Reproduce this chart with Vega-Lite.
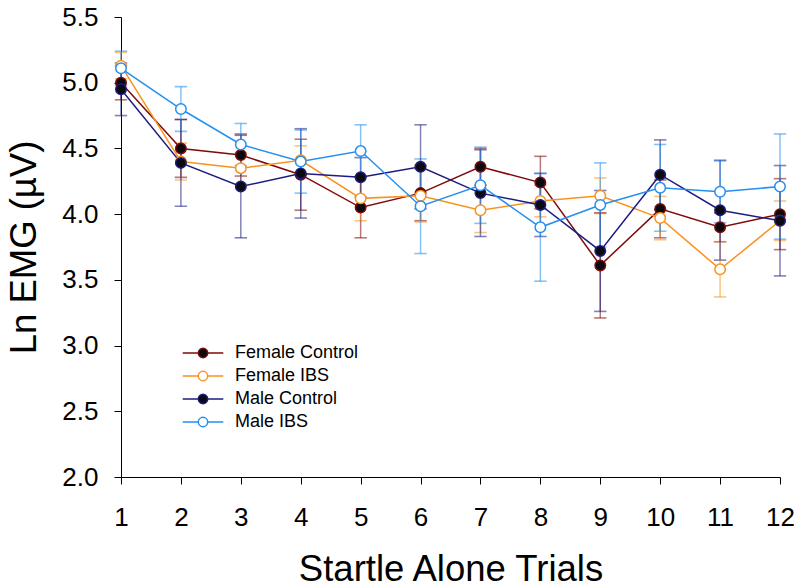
{
  "$schema": "https://vega.github.io/schema/vega-lite/v6.json",
  "width": 659,
  "height": 460,
  "autosize": {"type": "none"},
  "padding": {"left": 121, "top": 17, "right": 20, "bottom": 111},
  "background": "white",
  "config": {
    "view": {"stroke": null},
    "font": "Liberation Sans",
    "axis": {
      "domainColor": "#000000",
      "tickColor": "#000000",
      "labelColor": "#000000",
      "titleColor": "#000000",
      "labelFont": "Liberation Sans",
      "titleFont": "Liberation Sans",
      "titleFontWeight": "normal",
      "grid": false,
      "tickSize": 7,
      "labelFontSize": 26,
      "titleFontSize": 36.5
    }
  },
  "data": {
    "values": [
      {"trial": 1, "series": "Female Control", "mean": 5.00, "err": 0.13},
      {"trial": 2, "series": "Female Control", "mean": 4.50, "err": 0.22},
      {"trial": 3, "series": "Female Control", "mean": 4.45, "err": 0.16},
      {"trial": 4, "series": "Female Control", "mean": 4.30, "err": 0.27},
      {"trial": 5, "series": "Female Control", "mean": 4.05, "err": 0.23},
      {"trial": 6, "series": "Female Control", "mean": 4.16, "err": 0.21},
      {"trial": 7, "series": "Female Control", "mean": 4.36, "err": 0.14},
      {"trial": 8, "series": "Female Control", "mean": 4.24, "err": 0.20},
      {"trial": 9, "series": "Female Control", "mean": 3.61, "err": 0.40},
      {"trial": 10, "series": "Female Control", "mean": 4.04, "err": 0.22},
      {"trial": 11, "series": "Female Control", "mean": 3.90, "err": 0.11},
      {"trial": 12, "series": "Female Control", "mean": 4.00, "err": 0.27},
      {"trial": 1, "series": "Female IBS", "mean": 5.13, "err": 0.10},
      {"trial": 2, "series": "Female IBS", "mean": 4.40, "err": 0.14},
      {"trial": 3, "series": "Female IBS", "mean": 4.35, "err": 0.12},
      {"trial": 4, "series": "Female IBS", "mean": 4.41, "err": 0.11},
      {"trial": 5, "series": "Female IBS", "mean": 4.12, "err": 0.17},
      {"trial": 6, "series": "Female IBS", "mean": 4.14, "err": 0.20},
      {"trial": 7, "series": "Female IBS", "mean": 4.03, "err": 0.17},
      {"trial": 8, "series": "Female IBS", "mean": 4.10, "err": 0.12},
      {"trial": 9, "series": "Female IBS", "mean": 4.14, "err": 0.135},
      {"trial": 10, "series": "Female IBS", "mean": 3.97, "err": 0.165},
      {"trial": 11, "series": "Female IBS", "mean": 3.58, "err": 0.21},
      {"trial": 12, "series": "Female IBS", "mean": 3.95, "err": 0.15},
      {"trial": 1, "series": "Male Control", "mean": 4.95, "err": 0.20},
      {"trial": 2, "series": "Male Control", "mean": 4.39, "err": 0.33},
      {"trial": 3, "series": "Male Control", "mean": 4.21, "err": 0.39},
      {"trial": 4, "series": "Male Control", "mean": 4.31, "err": 0.34},
      {"trial": 5, "series": "Male Control", "mean": 4.28, "err": 0.15},
      {"trial": 6, "series": "Male Control", "mean": 4.36, "err": 0.32},
      {"trial": 7, "series": "Male Control", "mean": 4.16, "err": 0.33},
      {"trial": 8, "series": "Male Control", "mean": 4.07, "err": 0.24},
      {"trial": 9, "series": "Male Control", "mean": 3.72, "err": 0.46},
      {"trial": 10, "series": "Male Control", "mean": 4.30, "err": 0.265},
      {"trial": 11, "series": "Male Control", "mean": 4.03, "err": 0.38},
      {"trial": 12, "series": "Male Control", "mean": 3.95, "err": 0.42},
      {"trial": 1, "series": "Male IBS", "mean": 5.11, "err": 0.13},
      {"trial": 2, "series": "Male IBS", "mean": 4.80, "err": 0.17},
      {"trial": 3, "series": "Male IBS", "mean": 4.53, "err": 0.16},
      {"trial": 4, "series": "Male IBS", "mean": 4.40, "err": 0.24},
      {"trial": 5, "series": "Male IBS", "mean": 4.48, "err": 0.20},
      {"trial": 6, "series": "Male IBS", "mean": 4.06, "err": 0.36},
      {"trial": 7, "series": "Male IBS", "mean": 4.22, "err": 0.29},
      {"trial": 8, "series": "Male IBS", "mean": 3.90, "err": 0.41},
      {"trial": 9, "series": "Male IBS", "mean": 4.07, "err": 0.32},
      {"trial": 10, "series": "Male IBS", "mean": 4.20, "err": 0.33},
      {"trial": 11, "series": "Male IBS", "mean": 4.17, "err": 0.235},
      {"trial": 12, "series": "Male IBS", "mean": 4.21, "err": 0.40}
    ]
  },
  "encoding": {
    "x": {
      "field": "trial",
      "type": "quantitative",
      "scale": {"domain": [1, 12], "nice": false, "zero": false},
      "axis": {
        "title": "Startle Alone Trials",
        "values": [1, 2, 3, 4, 5, 6, 7, 8, 9, 10, 11, 12],
        "format": "d",
        "labelBaseline": "alphabetic",
        "labelPadding": 41,
        "titleBaseline": "alphabetic",
        "titleY": 103,
        "labelFlush": false
      }
    },
    "y": {
      "field": "mean",
      "type": "quantitative",
      "scale": {"domain": [2, 5.5], "nice": false, "zero": false},
      "axis": {
        "title": "Ln EMG (µV)",
        "values": [2, 2.5, 3, 3.5, 4, 4.5, 5, 5.5],
        "format": ".1f",
        "labelPadding": 16,
        "titleX": -86,
        "titleBaseline": "alphabetic",
        "labelFlush": false
      }
    },
    "color": {
      "field": "series",
      "type": "nominal",
      "scale": {
        "domain": ["Female Control", "Female IBS", "Male Control", "Male IBS"],
        "range": ["#7f0a0a", "#f7931e", "#1c1c82", "#2490f0"]
      },
      "legend": {
        "title": null,
        "orient": "none",
        "legendX": 73,
        "legendY": 327,
        "padding": 0,
        "rowPadding": 5,
        "labelOffset": 23,
        "labelFontSize": 18,
        "labelFont": "Liberation Sans",
        "labelColor": "#000000",
        "symbolSize": 100,
        "symbolStrokeWidth": 1.5,
        "symbolType": "M0.94,0 A0.94,0.94 0 1,1 -0.94,0 A0.94,0.94 0 1,1 0.94,0 Z M-4.06,0 L-0.94,0 M0.94,0 L4.06,0",
        "encode": {
          "symbols": {
            "update": {
              "fill": {"scale": "fill", "field": "value"},
              "strokeWidth": {"value": 1.5},
              "opacity": {"value": 1},
              "fillOpacity": {"value": 1},
              "strokeOpacity": {"value": 1}
            }
          }
        }
      }
    }
  },
  "layer": [
    {
      "mark": {
        "type": "errorbar",
        "size": 11,
        "rule": {"strokeWidth": 1.5, "opacity": 0.55},
        "ticks": {"filled": false, "thickness": 0.2, "strokeWidth": 1.4, "opacity": 0.55}
      },
      "encoding": {
        "yError": {"field": "err"}
      }
    },
    {
      "mark": {"type": "line", "strokeWidth": 1.5},
      "encoding": {
        "detail": {"field": "series"}
      }
    },
    {
      "mark": {"type": "point", "shape": "circle", "size": 110, "strokeWidth": 1.5, "opacity": 1},
      "encoding": {
        "fill": {
          "field": "series",
          "type": "nominal",
          "scale": {
            "domain": ["Female Control", "Female IBS", "Male Control", "Male IBS"],
            "range": ["#0a0a10", "#ffffff", "#0a0a10", "#ffffff"]
          },
          "legend": null
        }
      }
    }
  ]
}
